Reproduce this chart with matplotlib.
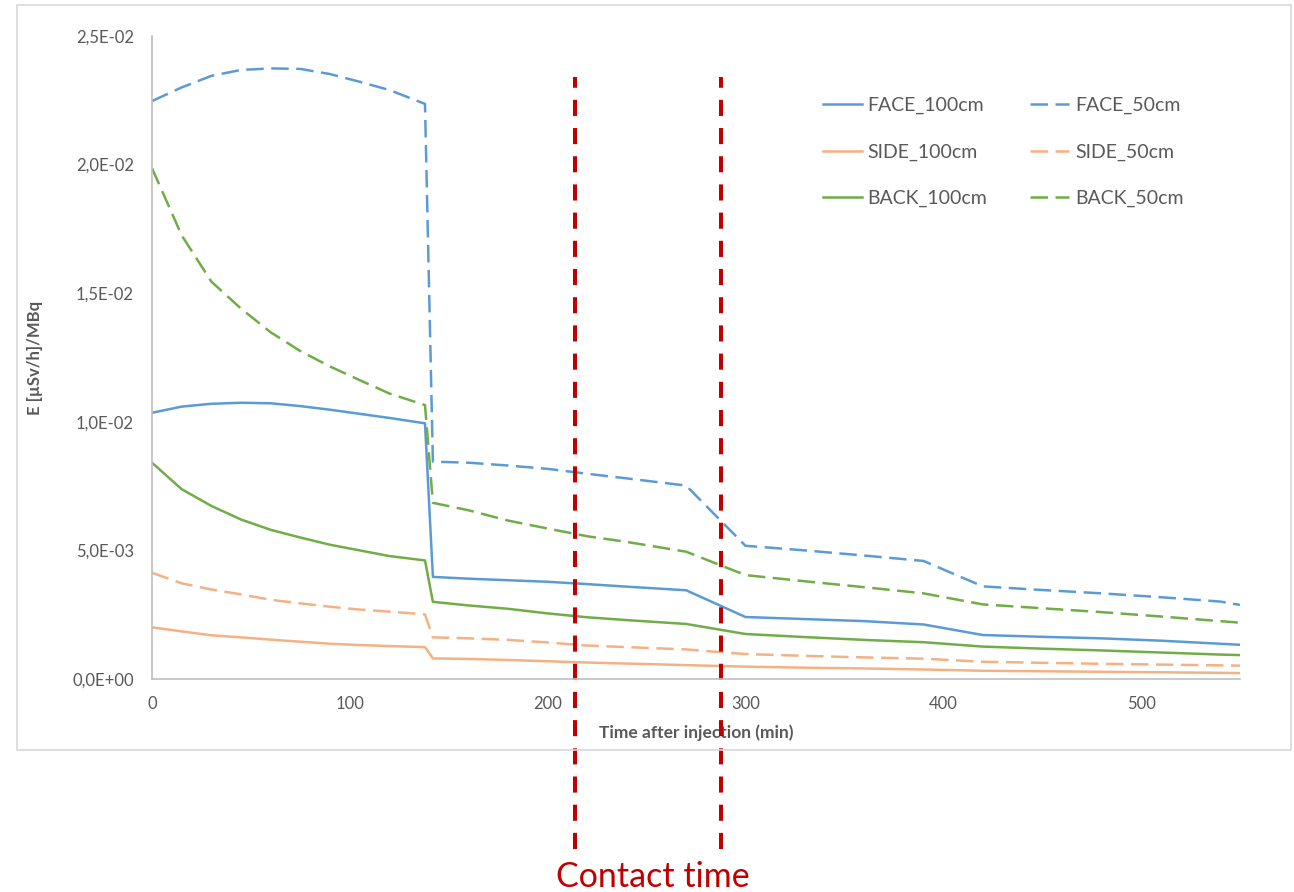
import matplotlib
matplotlib.use("Agg")
import matplotlib.pyplot as plt
from matplotlib.ticker import FuncFormatter, MultipleLocator
from matplotlib.patches import Rectangle

plt.rcParams['font.family'] = ['Lato', 'DejaVu Sans']

# ---- data (values in 1E-03 µSv/h/MBq) ----
time_min = [0, 15, 30, 45, 60, 75, 90, 105, 120, 138, 142, 160, 180, 200, 220, 240,
            270, 300, 330, 360, 390, 420, 450, 480, 510, 540, 550]

face_100 = [10.35, 10.59, 10.70, 10.74, 10.72, 10.61, 10.47, 10.31, 10.15, 9.94,
            3.97, 3.90, 3.84, 3.78, 3.69, 3.59, 3.45, 2.41, 2.33, 2.25, 2.12,
            1.71, 1.64, 1.58, 1.49, 1.37, 1.33]
face_50 = [22.47, 23.00, 23.45, 23.68, 23.74, 23.72, 23.52, 23.22, 22.90, 22.36,
           8.45, 8.41, 8.30, 8.17, 7.98, 7.80, 7.52, 5.18, 5.00, 4.80, 4.59,
           3.60, 3.46, 3.33, 3.18, 3.01, 2.88]
side_100 = [2.01, 1.85, 1.70, 1.62, 1.53, 1.45, 1.37, 1.32, 1.28, 1.24,
            0.80, 0.78, 0.74, 0.69, 0.64, 0.60, 0.54, 0.48, 0.44, 0.41, 0.37,
            0.32, 0.30, 0.28, 0.26, 0.24, 0.23]
side_50 = [4.13, 3.72, 3.48, 3.29, 3.08, 2.94, 2.81, 2.70, 2.62, 2.51,
           1.62, 1.58, 1.52, 1.42, 1.30, 1.24, 1.15, 0.97, 0.90, 0.84, 0.79,
           0.67, 0.63, 0.59, 0.56, 0.53, 0.52]
back_100 = [8.41, 7.38, 6.73, 6.20, 5.80, 5.50, 5.22, 5.00, 4.78, 4.61,
            3.00, 2.86, 2.73, 2.55, 2.40, 2.29, 2.14, 1.75, 1.63, 1.52, 1.43,
            1.26, 1.18, 1.11, 1.03, 0.95, 0.93]
back_50 = [19.86, 17.25, 15.45, 14.40, 13.48, 12.75, 12.15, 11.62, 11.10, 10.65,
           6.85, 6.56, 6.16, 5.85, 5.55, 5.33, 4.95, 4.04, 3.80, 3.57, 3.33,
           2.90, 2.75, 2.60, 2.43, 2.25, 2.19]

series_labels = ['FACE_100cm', 'FACE_50cm', 'SIDE_100cm', 'SIDE_50cm', 'BACK_100cm', 'BACK_50cm']
contact_times = [214, 287.5]
contact_label = 'Contact time'

# ---- figure ----
W, H = 1294, 892
fig = plt.figure(figsize=(W / 100, H / 100), dpi=100)
ax = fig.add_axes([152 / W, 1 - 679 / H, (1240 - 152) / W, (679 - 36) / H])

# outer chart border
fig.patches.append(Rectangle((17 / W, 1 - 750 / H), (1291 - 17) / W, (750 - 5) / H,
                             transform=fig.transFigure, fill=False,
                             edgecolor='#D9D9D9', linewidth=1.2))

blue, orange, green = '#5B9BD5', '#F4B183', '#70AD47'
lw = 1.8
dash = (7, 3)
data = [face_100, face_50, side_100, side_50, back_100, back_50]
colors = [blue, blue, orange, orange, green, green]
for i, (vals, c, lab) in enumerate(zip(data, colors, series_labels)):
    y = [v * 1e-3 for v in vals]
    if i % 2 == 0:
        ax.plot(time_min, y, color=c, lw=lw, label=lab, solid_joinstyle='round')
    else:
        ax.plot(time_min, y, color=c, lw=lw, label=lab, dashes=dash)

ax.set_xlim(0, 550)
ax.set_ylim(0, 0.025)
ax.xaxis.set_major_locator(MultipleLocator(100))
ax.yaxis.set_major_locator(MultipleLocator(0.005))
ax.yaxis.set_major_formatter(FuncFormatter(lambda v, p: f"{v:.1E}".replace('.', ',')))

for s in ['top', 'right']:
    ax.spines[s].set_visible(False)
for s in ['left', 'bottom']:
    ax.spines[s].set_color('#BFBFBF')
    ax.spines[s].set_linewidth(1.2)
ax.tick_params(axis='both', length=0, labelsize=12, labelcolor='#595959')
ax.tick_params(axis='y', pad=13)
ax.tick_params(axis='x', pad=12)

ax.set_xlabel('Time after injection (min)', fontsize=12.5, fontweight='bold',
              color='#595959', labelpad=9)
ax.set_ylabel('E [µSv/h]/MBq', fontsize=12, fontweight='bold', color='#595959',
              labelpad=21)

# legend: row-major order in two columns
handles, labels = ax.get_legend_handles_labels()
order = [0, 2, 4, 1, 3, 5]
leg = ax.legend([handles[k] for k in order], [labels[k] for k in order],
                ncol=2, frameon=False, fontsize=14, loc='upper left',
                bbox_to_anchor=(823 / W, 1 - 97 / H), bbox_transform=fig.transFigure,
                borderpad=0, handlelength=2.0, handletextpad=0.3,
                columnspacing=2.2, labelspacing=1.5, borderaxespad=0)
for t in leg.get_texts():
    t.set_color('#595959')

# contact time markers
ax_h = 679 - 36
for ct in contact_times:
    ax.axvline(ct, ymin=(679 - 849) / ax_h, ymax=(679 - 77) / ax_h, clip_on=False,
               color='#C00000', lw=2.9, dashes=(4, 3))
fig.text(653 / W, 1 - 877 / H, contact_label, color='#C00000', fontsize=24.5,
         ha='center', va='center')

fig.savefig('out.png', dpi=100)
